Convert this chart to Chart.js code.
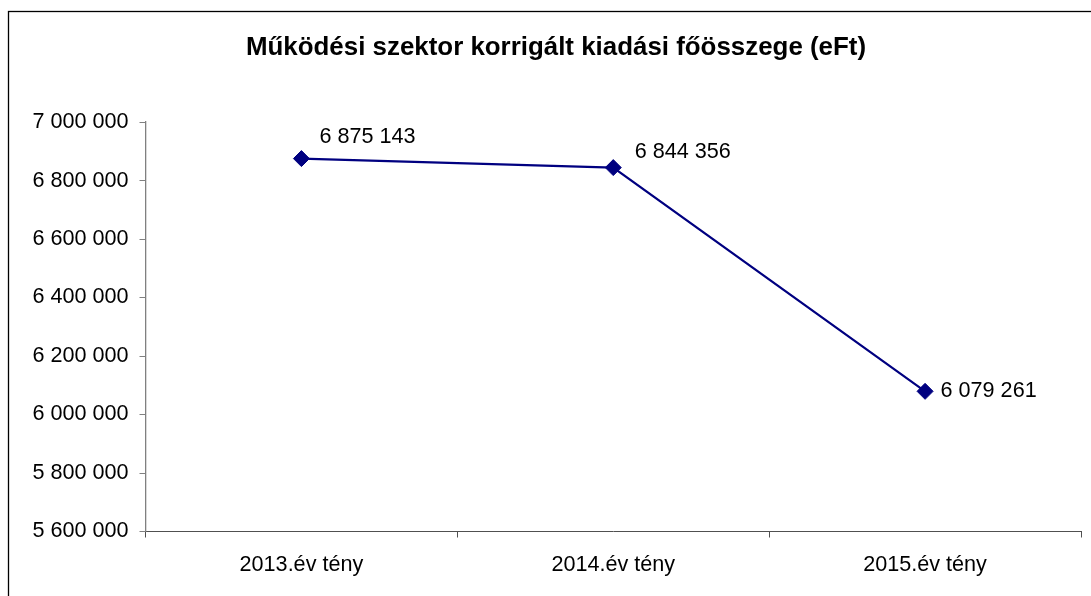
<!DOCTYPE html>
<html>
<head>
<meta charset="utf-8">
<script src="https://cdn.jsdelivr.net/npm/chart.js@4/dist/chart.umd.min.js"></script>
<style>
  html, body { margin: 0; padding: 0; background: #ffffff; }
  #wrap { position: relative; width: 1091px; height: 596px; }
</style>
</head>
<body>
<div id="wrap"><canvas id="c" width="1091" height="596"></canvas></div>
<script>
// ---- data ----
const categories = ['2013.év tény', '2014.év tény', '2015.év tény'];
const values = [6875143, 6844356, 6079261];
const yTicks = [5600000, 5800000, 6000000, 6200000, 6400000, 6600000, 6800000, 7000000];
const titleText = 'Működési szektor korrigált kiadási főösszege (eFt)';

const fmt = v => String(v).replace(/\B(?=(\d{3})+(?!\d))/g, ' ');
const FONT = "'Liberation Sans', Arial, sans-serif";
const NAVY = '#000080';

// label offsets relative to the point (left edge x, vertical centre y)
const labelOffsets = [[18, -21.5], [21.5, -16], [15.5, 0]];

const framePlugin = {
  id: 'frame',
  beforeDraw(chart) {
    const ctx = chart.ctx;
    ctx.save();
    ctx.fillStyle = '#ffffff';
    ctx.fillRect(0, 0, chart.width, chart.height);
    ctx.strokeStyle = '#000000';
    ctx.lineWidth = 1.3;
    ctx.strokeRect(8.5, 11.5, 1200, 1000);
    ctx.restore();
  }
};

const labelPlugin = {
  id: 'valueLabels',
  afterDatasetsDraw(chart) {
    const ctx = chart.ctx;
    const meta = chart.getDatasetMeta(0);
    ctx.save();
    ctx.font = '21.6px ' + FONT;
    ctx.fillStyle = '#000000';
    ctx.textAlign = 'left';
    ctx.textBaseline = 'middle';
    meta.data.forEach((pt, i) => {
      const off = labelOffsets[i];
      ctx.fillText(fmt(values[i]), pt.x + off[0], pt.y + off[1]);
    });
    ctx.restore();
  }
};

new Chart(document.getElementById('c'), {
  type: 'line',
  data: {
    labels: categories,
    datasets: [{
      data: values,
      borderColor: NAVY,
      backgroundColor: NAVY,
      borderWidth: 2.2,
      pointStyle: 'rectRot',
      pointRadius: 8,
      pointBorderWidth: 1,
      pointBackgroundColor: NAVY,
      pointBorderColor: NAVY,
      tension: 0,
      fill: false
    }]
  },
  options: {
    responsive: false,
    animation: false,
    devicePixelRatio: 1,
    layout: { padding: { left: 31, right: 10, top: 0, bottom: 0 } },
    plugins: {
      legend: { display: false },
      tooltip: { enabled: false },
      title: {
        display: true,
        text: titleText,
        color: '#000000',
        font: { family: FONT, size: 25.9, weight: 'bold' },
        padding: { top: 32, bottom: 59 }
      }
    },
    scales: {
      x: {
        type: 'category',
        offset: true,
        afterFit(scale) { scale.height = 64.5; },
        grid: {
          offset: true,
          drawOnChartArea: false,
          drawTicks: true,
          tickLength: 6,
          tickColor: '#505050',
          tickWidth: 1
        },
        border: { display: true, color: '#505050', width: 1 },
        ticks: {
          color: '#000000',
          padding: 15,
          maxRotation: 0,
          font: { family: FONT, size: 21.6 }
        }
      },
      y: {
        min: 5600000,
        max: 7000000,
        afterFit(scale) { scale.width = 114.5; },
        afterBuildTicks(scale) { scale.ticks = yTicks.map(v => ({ value: v })); },
        grid: {
          drawOnChartArea: false,
          drawTicks: true,
          tickLength: 6,
          tickColor: '#808080',
          tickWidth: 1
        },
        border: { display: true, color: '#808080', width: 1.3 },
        ticks: {
          color: '#000000',
          padding: 11,
          font: { family: FONT, size: 21.6 },
          callback: v => fmt(v)
        }
      }
    }
  },
  plugins: [framePlugin, labelPlugin]
});
</script>
</body>
</html>
